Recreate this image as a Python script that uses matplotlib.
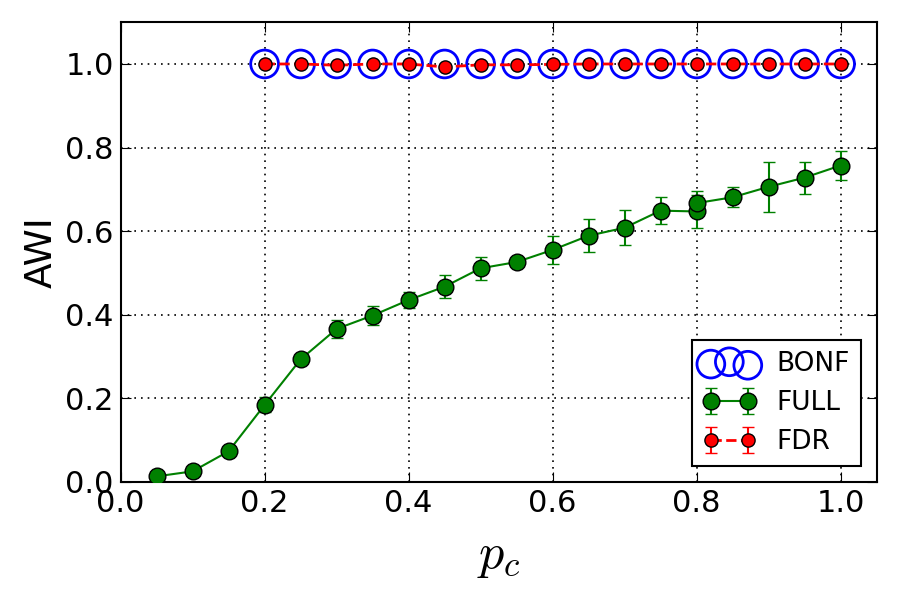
import numpy as np
import matplotlib
matplotlib.use('Agg')
import matplotlib.pyplot as plt

# 数据
pc_full = [0.05, 0.10, 0.15, 0.20, 0.25, 0.30, 0.35, 0.40, 0.45, 0.50,
           0.55, 0.60, 0.65, 0.70, 0.75, 0.80, 0.80, 0.85, 0.90, 0.95, 1.00]
awi_full = [0.013, 0.025, 0.073, 0.184, 0.293, 0.366, 0.398, 0.435, 0.467, 0.511,
            0.526, 0.555, 0.589, 0.608, 0.649, 0.647, 0.667, 0.681, 0.706, 0.728, 0.757]
err_full = [0.003, 0.004, 0.005, 0.018, 0.005, 0.021, 0.023, 0.020, 0.027, 0.027,
            0.005, 0.033, 0.039, 0.042, 0.033, 0.040, 0.030, 0.024, 0.060, 0.038, 0.035]

pc_fdr = [0.20, 0.25, 0.30, 0.35, 0.40, 0.45, 0.50, 0.55, 0.60,
          0.65, 0.70, 0.75, 0.80, 0.85, 0.90, 0.95, 1.00]
awi_fdr = [1.000, 1.000, 0.997, 1.000, 1.000, 0.993, 0.998, 0.998, 0.999,
           1.000, 1.000, 1.000, 1.000, 1.000, 1.000, 1.000, 1.000]
err_fdr = [0.002, 0.002, 0.003, 0.002, 0.002, 0.004, 0.003, 0.003, 0.002,
           0.002, 0.002, 0.002, 0.002, 0.002, 0.002, 0.002, 0.002]

pc_bonf = pc_fdr
awi_bonf = [1.0] * len(pc_bonf)

plt.rcParams['font.family'] = 'DejaVu Sans'
plt.rcParams['mathtext.fontset'] = 'cm'

fig = plt.figure(figsize=(9, 6), dpi=100)
ax = fig.add_axes([0.134, 0.197, 0.840, 0.766])

h_full = ax.errorbar(pc_full, awi_full, yerr=err_full, color='green', marker='o',
                     markersize=12, markeredgecolor='black', markeredgewidth=1,
                     linestyle='-', linewidth=1.5, capsize=4.5, elinewidth=1.5,
                     capthick=1.5, zorder=3)
h_bonf = ax.scatter(pc_bonf, awi_bonf, s=400, facecolors='none', edgecolors='blue',
                    linewidths=2, zorder=4)
h_fdr = ax.errorbar(pc_fdr, awi_fdr, yerr=err_fdr, color='red', marker='o',
                    markersize=9.5, markeredgecolor='black', markeredgewidth=1,
                    linestyle='--', linewidth=2, capsize=4.5, elinewidth=1.5,
                    capthick=1.5, zorder=5)

ax.set_xlim(0, 1.05)
ax.set_ylim(0, 1.1)
ax.set_xticks(np.arange(0, 1.01, 0.2))
ax.set_yticks(np.arange(0, 1.01, 0.2))
ax.set_xticklabels(['0.0', '0.2', '0.4', '0.6', '0.8', '1.0'])
ax.set_yticklabels(['0.0', '0.2', '0.4', '0.6', '0.8', '1.0'])
ax.grid(True, color='black', linestyle=(0, (1, 3)), linewidth=1.2)
ax.tick_params(direction='in', top=True, right=True, labelsize=22, length=7, pad=5)
for s in ax.spines.values():
    s.set_linewidth(1.5)

ax.set_xlabel('$p_c$', fontsize=36, labelpad=10)
ax.set_ylabel('AWI', fontsize=27)

leg = ax.legend([h_bonf, h_full, h_fdr], ['BONF', 'FULL', 'FDR'], loc='lower right',
                fontsize=19, numpoints=2, scatterpoints=3, fancybox=False,
                framealpha=1, edgecolor='black', borderaxespad=0.6)
leg.get_frame().set_linewidth(1.5)

plt.savefig('out.png', dpi=100)
